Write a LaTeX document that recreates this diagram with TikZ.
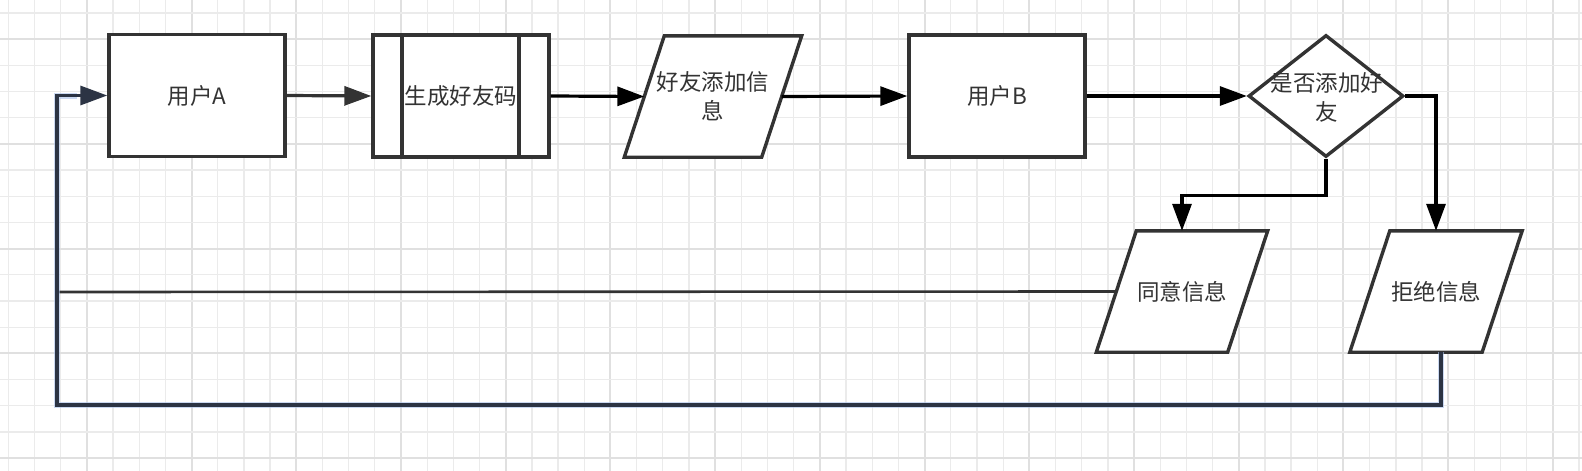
\documentclass[tikz,border=0pt]{standalone}
\usepackage{fontspec}
\newfontfamily\cjk{Noto Sans CJK SC}
\usetikzlibrary{arrows.meta,shapes.geometric}
\definecolor{ink}{HTML}{333333}
\definecolor{gridthin}{HTML}{EBEBEB}
\definecolor{gridthick}{HTML}{E0E0E0}
\definecolor{glow}{HTML}{A9C1EA}
\definecolor{loopc}{HTML}{2C3444}
\pgfdeclarelayer{gridlayer}
\pgfdeclarelayer{shapelayer}
\pgfsetlayers{gridlayer,shapelayer,main}
\newcommand\paraOutline[2]{%
  \draw[border] ([xshift=#2pt]#1.north west) -- ([xshift=#2pt]#1.north east)
    -- ([xshift=-#2pt]#1.south east) -- ([xshift=-#2pt]#1.south west) -- cycle;}
\tikzset{
  box/.style={draw=ink, line width=3.4pt, fill=white, minimum width=176pt,
    minimum height=122pt, inner sep=0pt, text=ink, align=center},
  body/.style={minimum height=121pt, inner sep=0pt, text=ink, align=center},
  border/.style={draw=ink, line width=3.4pt, fill=white},
  arr/.style={line width=3.2pt, draw=black, -{Triangle[length=27pt,width=19pt]}},
  gthin/.style={draw=gridthin, line width=1.3pt},
  gthick/.style={draw=gridthick, line width=2pt},
}
\begin{document}
\begin{tikzpicture}[x=1pt, y=-1pt, font={\cjk\fontsize{22.5pt}{29pt}\selectfont}]
\useasboundingbox (0,0) rectangle (1582,471);
\begin{pgfonlayer}{gridlayer}
  \fill[white] (0,0) rectangle (1582,471);
  \foreach \k in {0,...,60} {
    \pgfmathsetmacro\xx{8.3+\k*26.18}
    \pgfmathtruncatemacro\mm{mod(\k,4)}
    \ifnum\mm=3 \draw[gthick] (\xx,0) -- (\xx,471);
    \else \draw[gthin] (\xx,0) -- (\xx,471); \fi
  }
  \foreach \k in {0,...,17} {
    \pgfmathsetmacro\yy{13+\k*26.18}
    \pgfmathtruncatemacro\mm{mod(\k,4)}
    \ifnum\mm=1 \draw[gthick] (0,\yy) -- (1582,\yy);
    \else \draw[gthin] (0,\yy) -- (1582,\yy); \fi
  }
\end{pgfonlayer}

% nodes
\node[box] (A) at (197,95.5) {用户A};
\node[box] (G) at (461,96) {生成好友码};
\draw[draw=ink, line width=3.4pt] ([xshift=-59pt]G.north) -- ([xshift=-59pt]G.south);
\draw[draw=ink, line width=3.4pt] ([xshift=58pt]G.north) -- ([xshift=58pt]G.south);
\node[body, minimum width=137pt] (P) at (713,96.5) {好友添加信\\息};
\node[box] (B) at (997,96) {用户B};
\node[diamond, draw=ink, line width=3.4pt, fill=white, minimum width=155pt,
      minimum height=122pt, inner sep=0pt] (D) at (1326,96) {};
\node[text=ink, align=center, inner sep=0pt] (DT) at (1327,97.5) {是否添加好\\友};
\node[body, minimum width=131pt] (Y) at (1182,291.5) {同意信息};
\node[body, minimum width=132pt] (N) at (1436,291.5) {拒绝信息};

\begin{pgfonlayer}{shapelayer}
  \paraOutline{P}{20}
  \paraOutline{Y}{20}
  \paraOutline{N}{20}
\end{pgfonlayer}

\coordinate (YL) at (57,292);
\coordinate (BL) at (57,405);

% connectors
\draw[arr, draw=ink] (A.east) -- (G.west);
\draw[arr] (G.east) -- (P.west);
\draw[arr] (P.east) -- (B.west);
\draw[arr] (B.east) -- (D.west);
\draw[arr] (D.south) -- ++(0,37) -| (Y.north);
\draw[arr] (D.east) -| (N.north);
\draw[draw=ink, line width=2.6pt] (Y.west) -- (YL);
\draw[draw=glow, line width=6pt, opacity=0.6] ([xshift=5pt]N.south) |- (BL) |- ([xshift=-30pt]A.west);
\draw[draw=loopc, line width=3.2pt, -{Triangle[length=27pt,width=19pt]}]
  ([xshift=5pt]N.south) |- (BL) |- (A.west);
\end{tikzpicture}
\end{document}
